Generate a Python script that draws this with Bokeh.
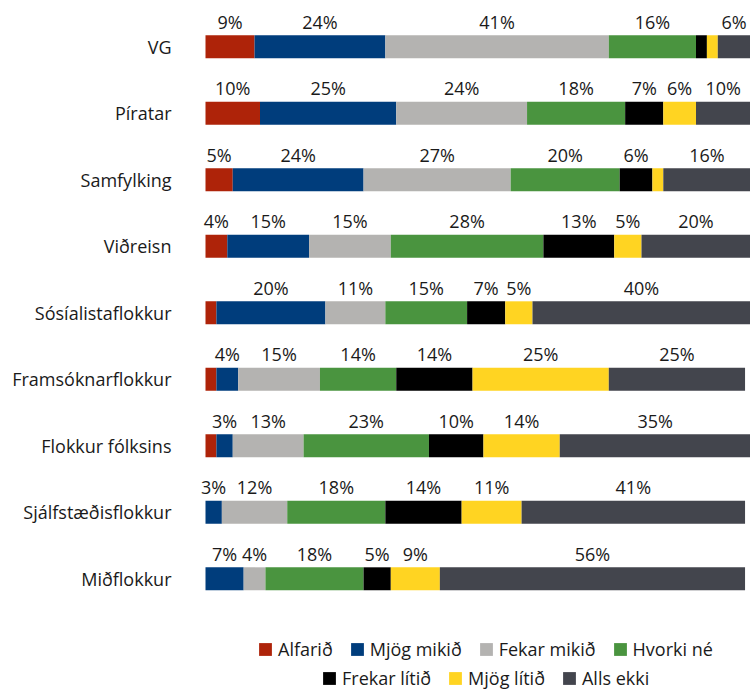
from bokeh.plotting import figure
from bokeh.models import ColumnDataSource, Legend, LegendItem, FixedTicker, Range1d, LabelSet
from bokeh.embed import file_html
from bokeh.resources import INLINE
from bokeh.core.properties import value

categories = ["VG", "Píratar", "Samfylking", "Viðreisn", "Sósíalistaflokkur",
              "Framsóknarflokkur", "Flokkur fólksins", "Sjálfstæðisflokkur", "Miðflokkur"]
series = ["Alfarið", "Mjög mikið", "Fekar mikið", "Hvorki né", "Frekar lítið", "Mjög lítið", "Alls ekki"]
alfarid      = [9, 10, 5, 4, 2, 2, 2, 0, 0]
mjog_mikid   = [24, 25, 24, 15, 20, 4, 3, 3, 7]
fekar_mikid  = [41, 24, 27, 15, 11, 15, 13, 12, 4]
hvorki_ne    = [16, 18, 20, 28, 15, 14, 23, 18, 18]
frekar_litid = [2, 7, 6, 13, 7, 14, 10, 14, 5]
mjog_litid   = [2, 6, 2, 5, 5, 25, 14, 11, 9]
alls_ekki    = [6, 10, 16, 20, 40, 25, 35, 41, 56]
colors = ["#AE2309", "#003D7C", "#B4B3B1", "#4A943F", "#000000", "#FFD422", "#43454D"]

values = [alfarid, mjog_mikid, fekar_mikid, hvorki_ne, frekar_litid, mjog_litid, alls_ekki]
n = len(categories)
ys = [n - 1 - i for i in range(n)]

FONT = "Open Sans"
FS = "18px"
TXT = "#1a1a1a"

data = {"y": ys}
for name, vals in zip(series, values):
    data[name] = vals
source = ColumnDataSource(data)

# frame starts at x=190 so labels near 0% are not clipped; 0% sits at x=205
FRAME_LEFT = 190
ZERO_X = 205
W = 750
x_start = -100 * (ZERO_X - FRAME_LEFT) / (W - ZERO_X)

p = figure(width=W, height=689, output_backend="svg", toolbar_location=None,
           x_range=Range1d(x_start, 100), y_range=Range1d(-1.665, 8.696),
           x_axis_location=None, min_border_left=FRAME_LEFT, min_border_right=0,
           min_border_top=0, min_border_bottom=0)
p.outline_line_color = None
p.xgrid.visible = False
p.ygrid.visible = False

renderers = p.hbar_stack(series, y="y", height=0.345, color=colors, line_color=None, source=source)

# percent labels above each segment
lx, ly, lt = [], [], []
for i in range(n):
    left = 0
    for vals in values:
        v = vals[i]
        if v >= 3:
            lx.append(left + v / 2)
            ly.append(ys[i])
            lt.append(f"{v}%")
        left += v
lab_src = ColumnDataSource(dict(x=lx, y=ly, text=lt))
labels = LabelSet(x="x", y="y", text="text", source=lab_src, text_align="center",
                  text_baseline="middle", y_offset=25, text_font=value(FONT),
                  text_font_size=value(FS), text_color=value(TXT))
p.add_layout(labels)

ax = p.yaxis[0]
ax.ticker = FixedTicker(ticks=ys)
ax.major_label_overrides = {y: c for y, c in zip(ys, categories)}
ax.axis_line_color = None
ax.major_tick_line_color = None
ax.minor_tick_line_color = None
ax.major_tick_in = 0
ax.major_tick_out = 0
ax.major_label_standoff = 34 - (ZERO_X - FRAME_LEFT)
ax.major_label_text_font = FONT
ax.major_label_text_font_size = FS
ax.major_label_text_color = TXT

def make_legend(idx, loc):
    items = [LegendItem(label=series[k], renderers=[renderers[k]]) for k in idx]
    leg = Legend(items=items, location=loc, orientation="horizontal",
                 padding=0, margin=0, spacing=16, label_standoff=5,
                 glyph_width=16, glyph_height=16, label_height=16,
                 label_text_font=FONT, label_text_font_size=FS,
                 label_text_color=TXT, background_fill_alpha=0,
                 border_line_color=None)
    p.add_layout(leg)

# legend rows: squares at y 642-658 and 672-687 (from top), starting x 257 and 321
make_legend([0, 1, 2, 3], (257 - FRAME_LEFT, 689 - 661))
make_legend([4, 5, 6], (321 - FRAME_LEFT, 689 - 690))

open("out.html", "w").write(file_html(p, INLINE))
